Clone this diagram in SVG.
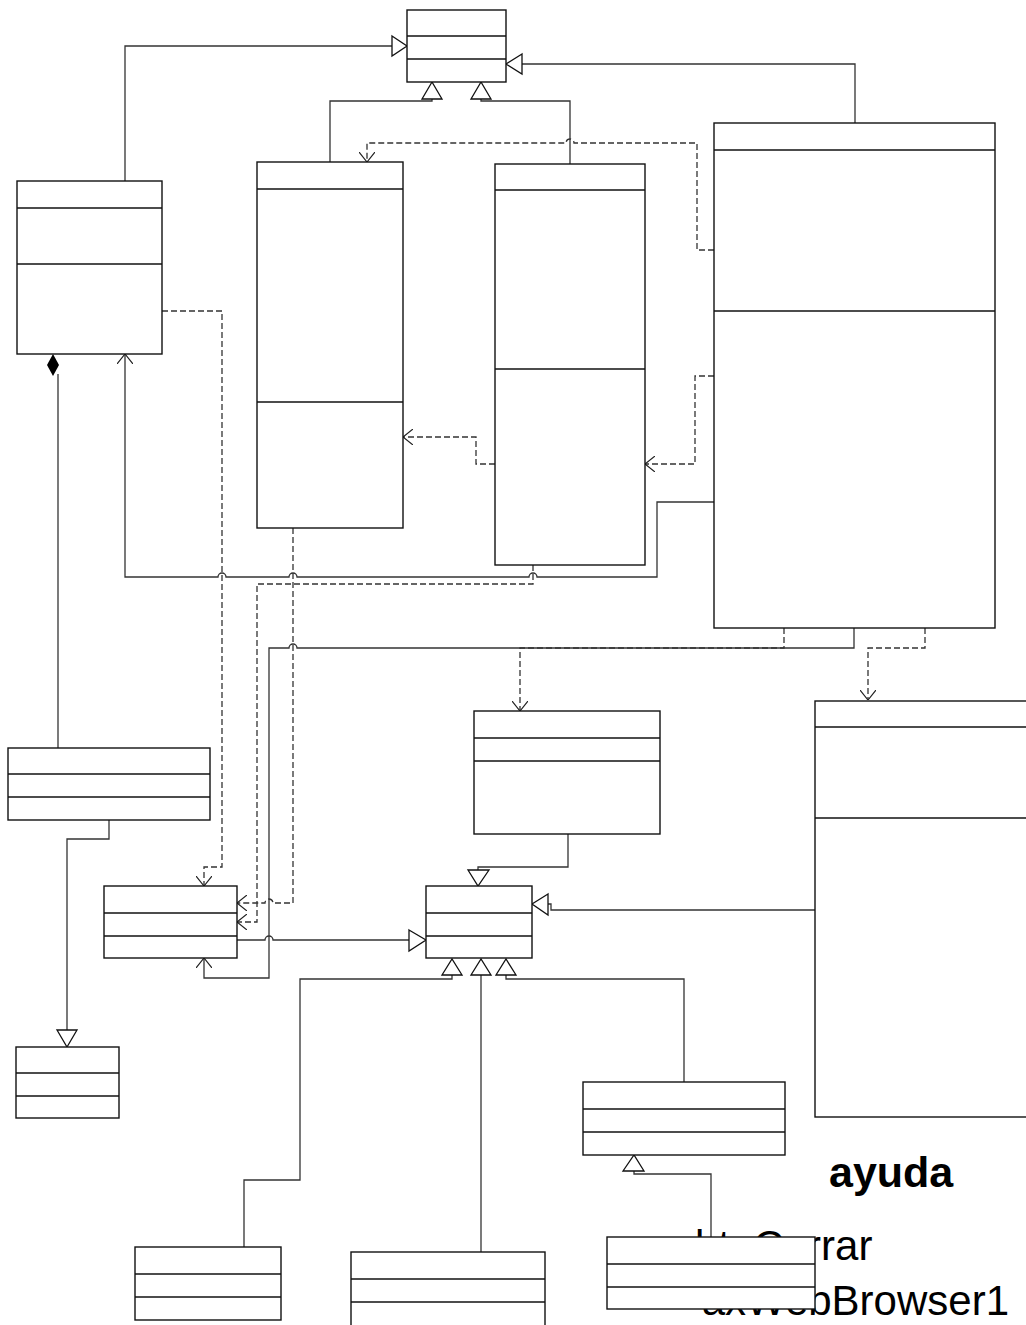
<svg xmlns="http://www.w3.org/2000/svg" width="1026" height="1325" viewBox="0 0 1026 1325">
<style>
.cls rect{fill:#fff;stroke:#111;stroke-width:1.4}
.cls line{stroke:#111;stroke-width:1.4}
.c path{fill:none;stroke:#333;stroke-width:1.3}
.c .d{stroke-dasharray:6,3}
.tri{fill:#fff;stroke:#111;stroke-width:1.3}
.t{font-family:"Liberation Sans",Arial,sans-serif;fill:#000}
</style>
<defs>
<marker id="open" viewBox="0 0 10 16" refX="10" refY="8" markerWidth="10" markerHeight="16" markerUnits="userSpaceOnUse" orient="auto">
<path d="M0,0 L10,8 L0,16" fill="none" stroke="#222" stroke-width="1.2"/>
</marker>
</defs>
<rect width="1026" height="1325" fill="#fff"/>

<text class="t" x="829" y="1187" font-size="43" font-weight="bold">ayuda</text>
<text class="t" x="695" y="1260" font-size="42">btnCerrar</text>
<text class="t" x="1009" y="1315" font-size="42" text-anchor="end">axWebBrowser1</text>

<g id="connectors" class="c">
<path d="M125,181 V46 H392"/>
<path d="M855,123 V64 H522"/>
<path d="M330,162 V101 H432 V99"/>
<path d="M570,164 V101 H481 V99"/>
<path class="d" d="M714,250 H697 V143 H574 a4,4 0 0 0 -8,0 H367 V162" marker-end="url(#open)"/>
<path class="d" d="M714,376 H695 V464 H645" marker-end="url(#open)"/>
<path class="d" d="M495,464 H476 V437 H403" marker-end="url(#open)"/>
<path d="M714,502 H657 V577 H537 a4,4 0 0 0 -8,0 H297 a4,4 0 0 0 -8,0 H226 a4,4 0 0 0 -8,0 H125 V354" marker-end="url(#open)"/>
<path class="d" d="M162,311 H222 V867 H204 V886" marker-end="url(#open)"/>
<path class="d" d="M293,528 V903 H273 a4,4 0 0 0 -8,0 H237" marker-end="url(#open)"/>
<path class="d" d="M533,565 V584 H257 V922 H237" marker-end="url(#open)"/>
<path d="M854,628 V648 H297 a4,4 0 0 0 -8,0 H269 V978 H204 V958" marker-end="url(#open)"/>
<path class="d" d="M784,628 V648 H520 V711" marker-end="url(#open)"/>
<path class="d" d="M925,628 V648 H868 V700" marker-end="url(#open)"/>
<path d="M58,374 V748"/>
<path d="M109,820 V839 H67 V1030"/>
<path d="M568,834 V867 H478 V870"/>
<path d="M815,910 H551 V904 H548"/>
<path d="M237,940 H265 a4,4 0 0 1 8,0 H409"/>
<path d="M244,1247 V1180 H300 V979 H452 V975"/>
<path d="M481,1252 V975"/>
<path d="M684,1082 V979 H506 V975"/>
<path d="M711,1237 V1174 H634 V1171"/>
<path d="M716,379 H762" style="stroke:#111"/>
<polygon class="tri" points="392,36 407,46 392,56"/>
<polygon class="tri" points="522,54 506,64 522,74"/>
<polygon class="tri" points="422,99 432,82 442,99"/>
<polygon class="tri" points="471,99 481,82 491,99"/>
<polygon points="53,354 59,365 53,376 47,365" fill="#000"/>
<polygon class="tri" points="57,1030 77,1030 67,1047"/>
<polygon class="tri" points="468,870 489,870 478,886"/>
<polygon class="tri" points="548,894 532,904 548,915"/>
<polygon class="tri" points="409,930 426,940 409,951"/>
<polygon class="tri" points="442,975 452,959 462,975"/>
<polygon class="tri" points="471,975 481,959 491,975"/>
<polygon class="tri" points="496,975 506,959 516,975"/>
<polygon class="tri" points="623,1171 634,1155 644,1171"/>
</g>

<g id="nodeA" class="cls"><rect x="407" y="10" width="99" height="72"/><line x1="407" y1="36" x2="506" y2="36"/><line x1="407" y1="59" x2="506" y2="59"/></g>
<g id="nodeE" class="cls"><rect x="17" y="181" width="145" height="173"/><line x1="17" y1="208" x2="162" y2="208"/><line x1="17" y1="264" x2="162" y2="264"/></g>
<g id="nodeB" class="cls"><rect x="257" y="162" width="146" height="366"/><line x1="257" y1="189" x2="403" y2="189"/><line x1="257" y1="402" x2="403" y2="402"/></g>
<g id="nodeC" class="cls"><rect x="495" y="164" width="150" height="401"/><line x1="495" y1="190" x2="645" y2="190"/><line x1="495" y1="369" x2="645" y2="369"/></g>
<g id="nodeD" class="cls"><rect x="714" y="123" width="281" height="505"/><line x1="714" y1="150" x2="995" y2="150"/><line x1="714" y1="311" x2="995" y2="311"/></g>
<g id="nodeG" class="cls"><rect x="474" y="711" width="186" height="123"/><line x1="474" y1="738" x2="660" y2="738"/><line x1="474" y1="761" x2="660" y2="761"/></g>
<g id="nodeH" class="cls"><rect x="815" y="701" width="300" height="416"/><line x1="815" y1="727" x2="1115" y2="727"/><line x1="815" y1="818" x2="1115" y2="818"/></g>
<g id="nodeO" class="cls"><rect x="8" y="748" width="202" height="72"/><line x1="8" y1="774" x2="210" y2="774"/><line x1="8" y1="797" x2="210" y2="797"/></g>
<g id="nodeF" class="cls"><rect x="104" y="886" width="133" height="72"/><line x1="104" y1="913" x2="237" y2="913"/><line x1="104" y1="936" x2="237" y2="936"/></g>
<g id="nodeI" class="cls"><rect x="426" y="886" width="106" height="72"/><line x1="426" y1="913" x2="532" y2="913"/><line x1="426" y1="936" x2="532" y2="936"/></g>
<g id="nodeN" class="cls"><rect x="16" y="1047" width="103" height="71"/><line x1="16" y1="1073" x2="119" y2="1073"/><line x1="16" y1="1096" x2="119" y2="1096"/></g>
<g id="nodeJ" class="cls"><rect x="583" y="1082" width="202" height="73"/><line x1="583" y1="1109" x2="785" y2="1109"/><line x1="583" y1="1132" x2="785" y2="1132"/></g>
<g id="nodeK" class="cls"><rect x="135" y="1247" width="146" height="73"/><line x1="135" y1="1274" x2="281" y2="1274"/><line x1="135" y1="1297" x2="281" y2="1297"/></g>
<g id="nodeL" class="cls"><rect x="351" y="1252" width="194" height="80"/><line x1="351" y1="1279" x2="545" y2="1279"/><line x1="351" y1="1302" x2="545" y2="1302"/></g>
<g id="nodeM" class="cls"><rect x="607" y="1237" width="208" height="72"/><line x1="607" y1="1264" x2="815" y2="1264"/><line x1="607" y1="1287" x2="815" y2="1287"/></g>
</svg>
